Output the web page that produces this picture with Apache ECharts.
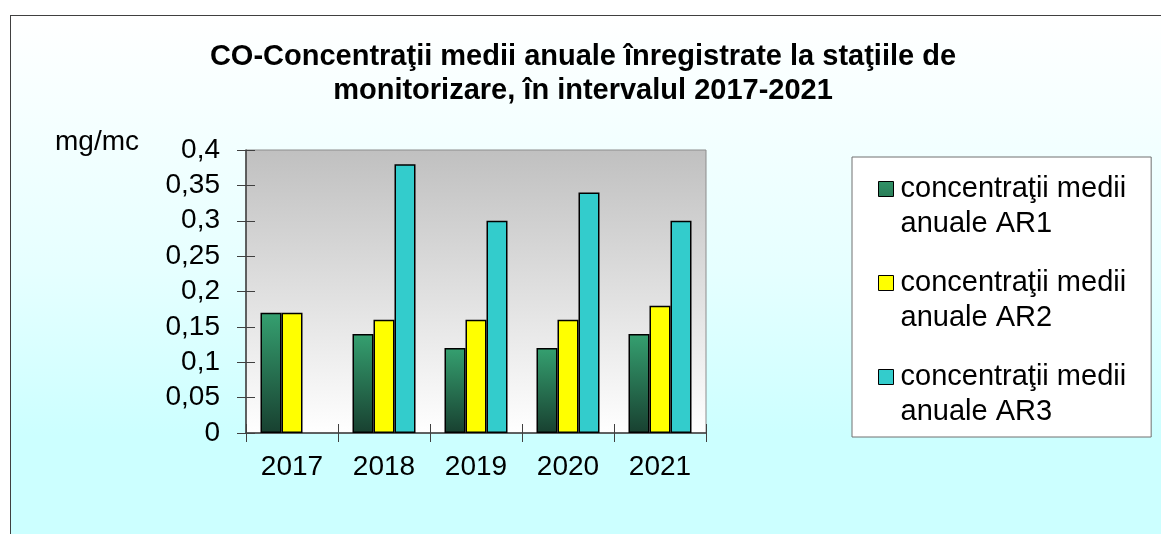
<!DOCTYPE html>
<html>
<head>
<meta charset="utf-8">
<script src="https://cdn.jsdelivr.net/npm/echarts@6/dist/echarts.min.js"></script>
<style>
  html, body { margin: 0; padding: 0; background: #fff; overflow: hidden; }
  #frame {
    position: absolute; left: 10px; top: 15px; width: 1200px; height: 560px;
    border: 1px solid #404040;
    background: linear-gradient(to bottom, #ffffff 0%, #e6ffff 45%, #ccffff 75%, #ccffff 100%);
  }
  #chart { position: absolute; left: 0; top: 0; width: 1161px; height: 534px; }
</style>
</head>
<body>
<div id="frame"></div>
<div id="chart"></div>
<script>
// data
const years = ['2017', '2018', '2019', '2020', '2021'];
const ar1 = [0.17, 0.14, 0.12, 0.12, 0.14];
const ar2 = [0.17, 0.16, 0.16, 0.16, 0.18];
const ar3 = [null, 0.38, 0.30, 0.34, 0.30];
const seriesNames = [
  'concentraţii medii anuale AR1',
  'concentraţii medii anuale AR2',
  'concentraţii medii anuale AR3'
];

const font = 'Liberation Sans, Arial, sans-serif';
const myChart = echarts.init(document.getElementById('chart'));

const green = new echarts.graphic.LinearGradient(0, 0, 0, 1, [
  { offset: 0, color: '#35a070' },
  { offset: 1, color: '#184030' }
]);

const barStyle = (c) => ({ color: c, borderColor: '#000', borderWidth: 1.5 });

// square sitting on the first of two text lines (box 15 x 70)
const legendIcon = 'path://M0,0M15,70M0,10h15v15h-15z';

const option = {
  backgroundColor: 'transparent',
  animation: false,
  textStyle: { fontFamily: font },
  title: {
    text: 'CO-Concentraţii medii anuale înregistrate la staţiile de\nmonitorizare, în intervalul 2017-2021',
    left: 578,
    textAlign: 'center',
    top: 35,
    textStyle: { fontFamily: font, fontSize: 29, fontWeight: 'bold', color: '#000', lineHeight: 34 }
  },
  graphic: [{
    type: 'text', x: 55, y: 142,
    style: { text: 'mg/mc', font: '28px ' + font, fill: '#000', verticalAlign: 'middle' }
  }],
  legend: {
    orient: 'vertical',
    left: 852,
    top: 157,
    padding: [14, 25, 7, 26],
    itemGap: 23,
    itemWidth: 15,
    itemHeight: 70,
    backgroundColor: '#fff',
    borderColor: '#707070',
    borderWidth: 1,
    borderRadius: 0,
    formatter: (name) => name.replace('medii ', 'medii\n'),
    textStyle: { fontFamily: font, fontSize: 29, color: '#000', lineHeight: 35, padding: [0, 0, 0, 2] },
    itemStyle: { borderColor: '#000', borderWidth: 1 },
    data: seriesNames.map(n => ({ name: n, icon: legendIcon }))
  },
  grid: {
    left: 246, right: 455, top: 150, height: 283,
    show: true,
    borderColor: '#8c8c8c', borderWidth: 1,
    backgroundColor: new echarts.graphic.LinearGradient(0, 0, 0, 1, [
      { offset: 0, color: '#c0c0c0' },
      { offset: 1, color: '#ffffff' }
    ])
  },
  xAxis: [{
    type: 'category', data: years,
    axisLine: { lineStyle: { color: '#404040', width: 1.5 } },
    axisTick: { show: true, length: 9, lineStyle: { color: '#404040' } },
    axisLabel: { fontSize: 28, color: '#000', margin: 20, fontFamily: font }
  }, {
    type: 'category', data: years, position: 'bottom',
    axisLine: { show: false },
    axisTick: { show: true, inside: true, length: 9, lineStyle: { color: '#404040' } },
    axisLabel: { show: false }
  }],
  yAxis: [{
    type: 'value', min: 0, max: 0.4, interval: 0.05,
    splitLine: { show: false },
    axisLine: { show: true, lineStyle: { color: '#404040', width: 1.5 } },
    axisTick: { show: true, length: 9, lineStyle: { color: '#404040' } },
    axisLabel: {
      fontSize: 28, color: '#000', margin: 26, fontFamily: font,
      formatter: (v) => String(+v.toFixed(2)).replace('.', ',')
    }
  }, {
    type: 'value', min: 0, max: 0.4, interval: 0.05, position: 'left',
    splitLine: { show: false },
    axisLine: { show: false },
    axisTick: { show: true, inside: true, length: 9, lineStyle: { color: '#404040' } },
    axisLabel: { show: false }
  }],
  series: [
    { name: seriesNames[0], type: 'bar', data: ar1, barWidth: 21, barGap: '0%', itemStyle: barStyle(green) },
    { name: seriesNames[1], type: 'bar', data: ar2, barWidth: 21, barGap: '0%', itemStyle: barStyle('#ffff00') },
    { name: seriesNames[2], type: 'bar', data: ar3, barWidth: 21, barGap: '0%', itemStyle: barStyle('#33cccc') }
  ]
};

myChart.setOption(option);
</script>
</body>
</html>
